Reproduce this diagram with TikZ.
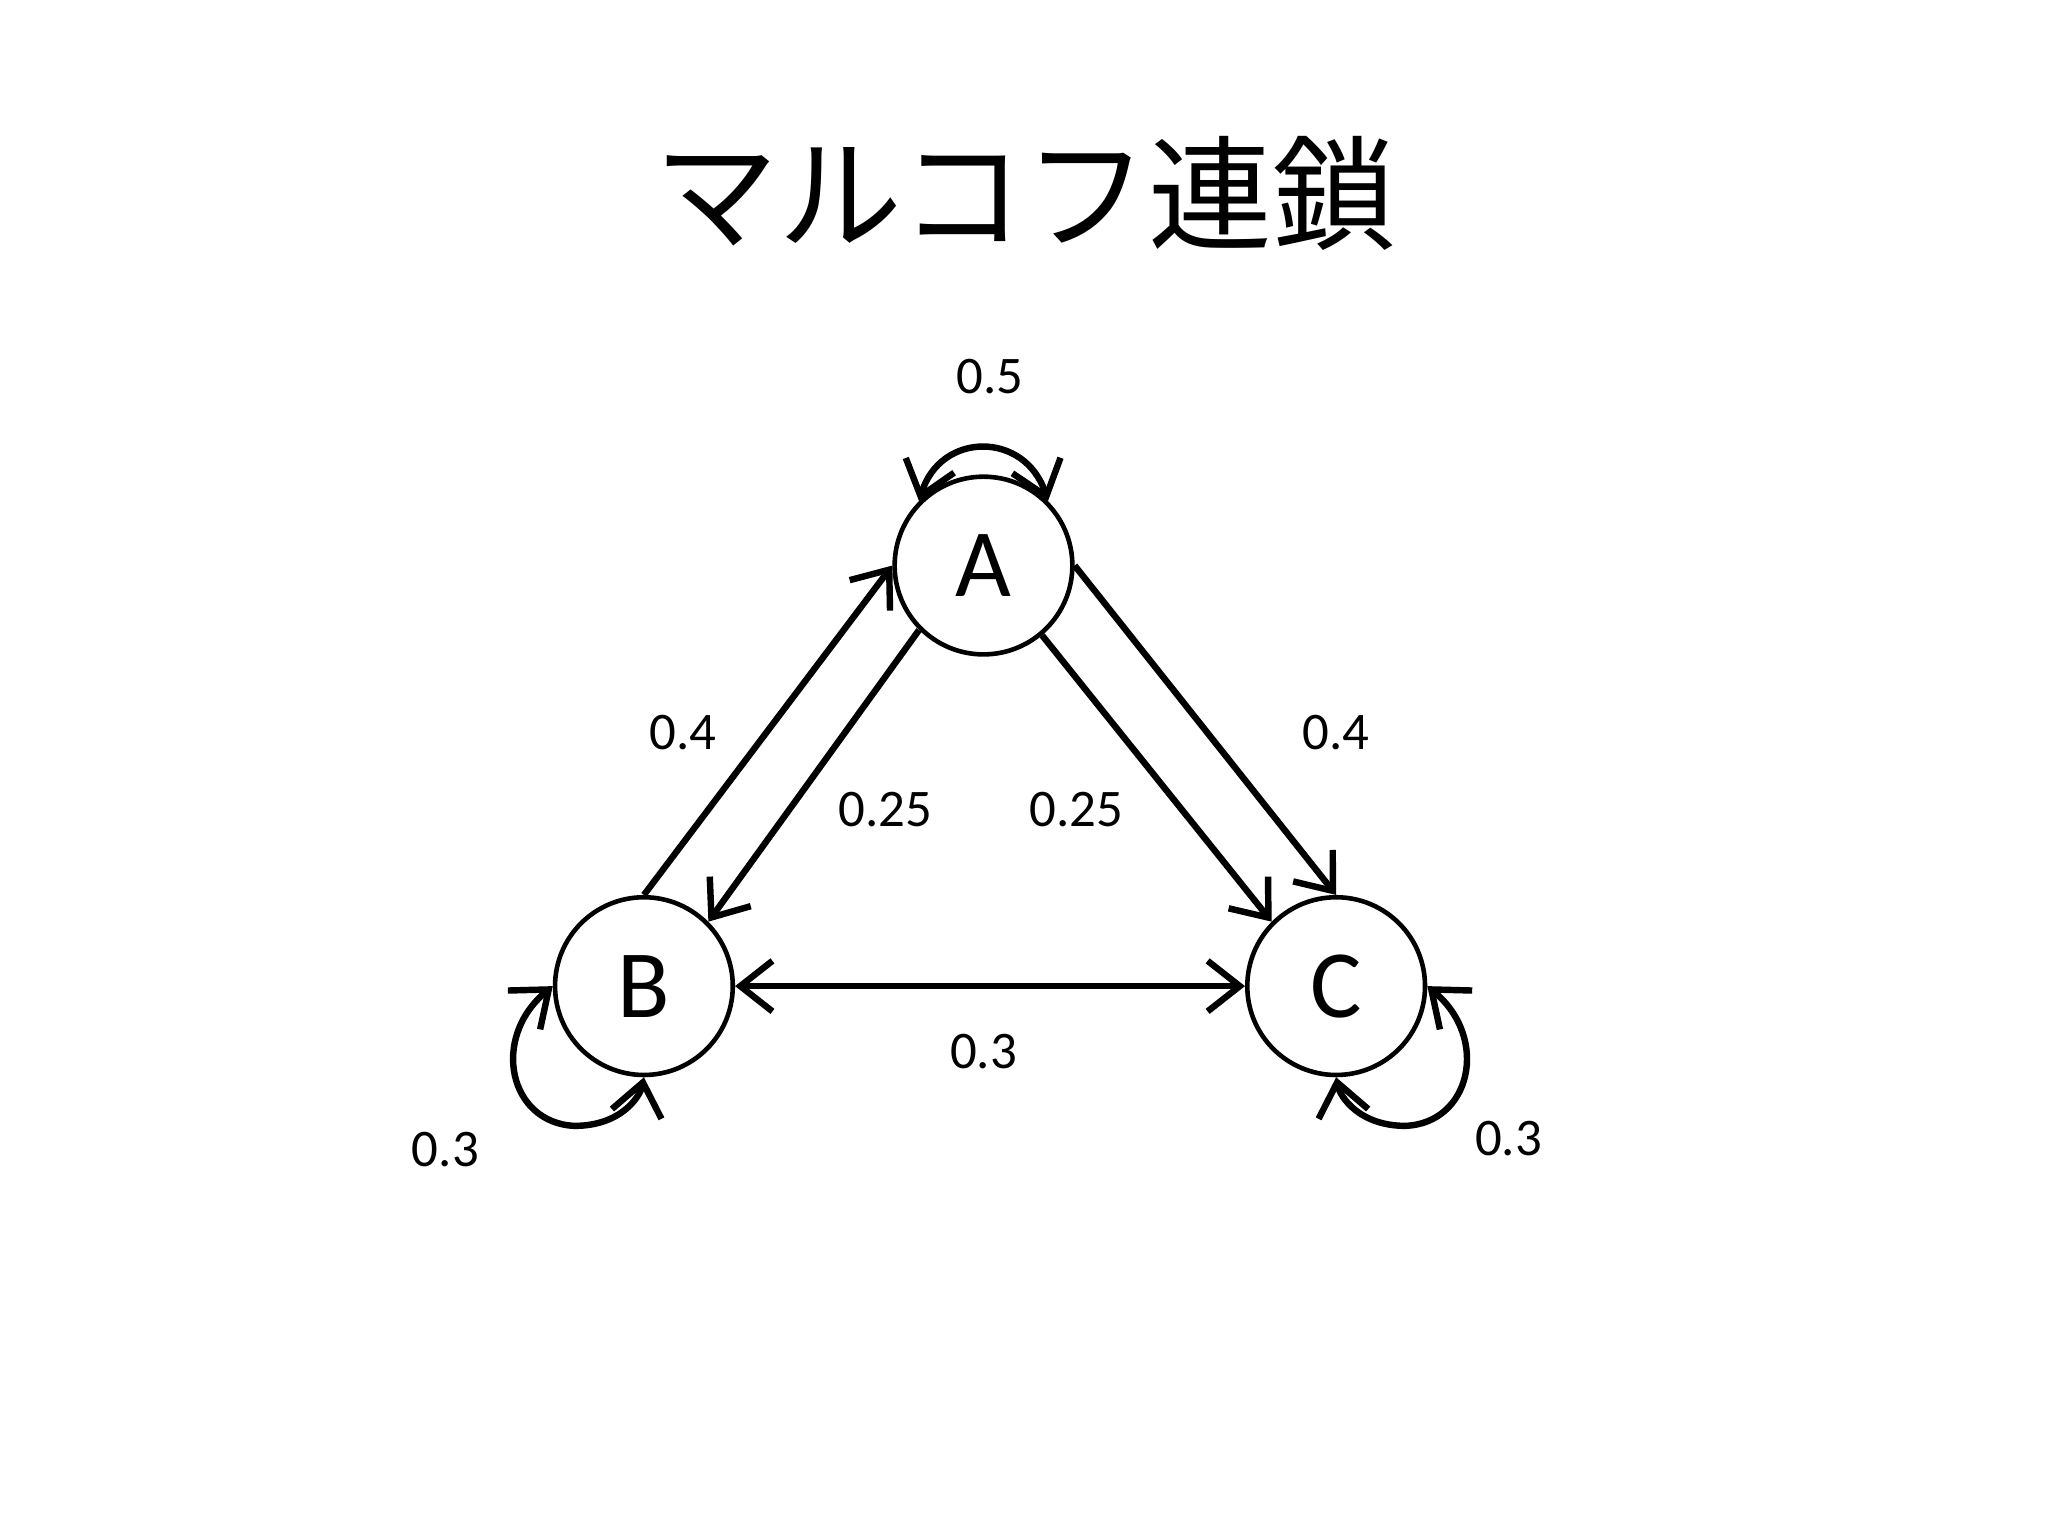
\documentclass[tikz,border=0pt]{standalone}
\usepackage{fontspec}
\setmainfont{Carlito}
\newfontfamily\cjk{Noto Sans CJK JP}
\usetikzlibrary{arrows.meta}
\begin{document}
\begin{tikzpicture}[x=0.01cm,y=-0.01cm,
  st/.style={circle,draw,line width=1pt,minimum size=1.36cm,inner sep=0pt,font=\fontsize{21}{21}\selectfont},
  ed/.style={line width=1.4pt,-{Straight Barb[length=7pt,width=11pt,line width=1.4pt]}},
  bd/.style={line width=1.4pt,{Straight Barb[length=7pt,width=11pt,line width=1.4pt]}-{Straight Barb[length=7pt,width=11pt,line width=1.4pt]}},
  lb/.style={font=\fontsize{11.5}{12}\selectfont}]
\useasboundingbox (0,0) rectangle (1568,1176);
\node[font=\cjk\fontsize{27}{27}\selectfont] (t) at (785,148) {マルコフ連鎖};
\node[st] (A) at (753,433) {A};
\node[st] (B) at (493,755) {B};
\node[st] (C) at (1023,755) {C};
\draw[ed] (B.90) -- (A.180);
\draw[ed] (A.225) -- (B.45);
\draw[ed] (A.0) -- (C.90);
\draw[ed] (A.310) -- (C.135);
\draw[bd] (B.0) -- (C.180);
\draw[bd] (A.135) .. controls (720,330) and (785,330) .. (A.45);
\draw[bd] (B.180) .. controls (375,795) and (390,860) .. (440,862) .. controls (475,862) and (490,840) .. (B.270);
\draw[bd] (C.0) .. controls (1141,795) and (1126,860) .. (1076,862) .. controls (1041,862) and (1026,840) .. (C.270);
\node[lb] (l1) at (758,288) {0.5};
\node[lb] (l2) at (523,561) {0.4};
\node[lb] (l3) at (1023,561) {0.4};
\node[lb] (l4) at (678,620) {0.25};
\node[lb] (l5) at (824,620) {0.25};
\node[lb] (l6) at (753,805) {0.3};
\node[lb] (l7) at (341,880) {0.3};
\node[lb] (l8) at (1155,872) {0.3};
\end{tikzpicture}
\end{document}
